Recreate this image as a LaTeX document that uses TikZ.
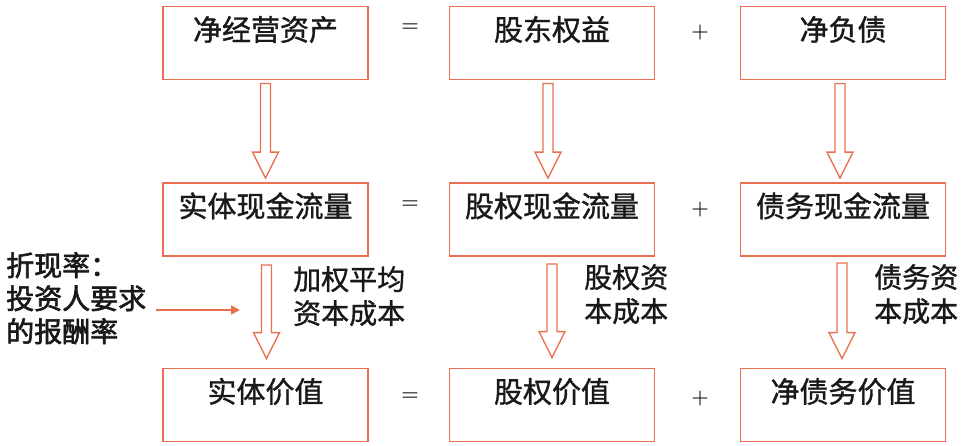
\documentclass[tikz,border=0pt]{standalone}
\usepackage{fontspec}
\newfontfamily\cjk{Noto Sans CJK SC}[FakeBold=1.2,AutoFakeBold=1.2]
\newfontfamily\cjkb{Noto Sans CJK SC}[FakeBold=2.2,AutoFakeBold=2.2]
\usetikzlibrary{calc,arrows.meta}
\definecolor{edge}{RGB}{232,112,80}
\definecolor{ink}{RGB}{25,25,25}
\tikzset{
  box/.style={draw=edge, line width=1.8pt, minimum width=205pt, inner xsep=0pt, inner ysep=0pt,
    text height=34pt, text depth=39pt, font=\cjk\fontsize{29}{32}\selectfont, text=ink},
  op/.style={font=\bfseries\fontsize{20}{22}\selectfont, text=ink, inner sep=0pt},
  lbl/.style={font=\cjk\fontsize{28}{34}\selectfont, text=ink, align=left, inner sep=0pt},
  hollow/.style={draw=edge, line width=1.3pt, fill=white, line join=miter},
  thin/.style={draw=edge, line width=1.6pt, -{Triangle[length=9pt,width=9pt]}}
}
\newcommand\blockarrow[2]{%
  \draw[hollow] let \p1=(#1), \p2=(#2) in
    (\x1-5pt,\y1) -- (\x1+5pt,\y1) -- (\x1+5pt,\y2+26pt) -- (\x1+13pt,\y2+26pt)
    -- (\x1,\y2) -- (\x1-13pt,\y2+26pt) -- (\x1-5pt,\y2+26pt) -- cycle;}
\begin{document}
\begin{tikzpicture}[x=1pt,y=-1pt]
\useasboundingbox (0,0) rectangle (968,445);
% row 1
\node[box] (a1) at (265.5,43) {净经营资产};
\node[box] (b1) at (552,43) {股东权益};
\node[box] (c1) at (843,43) {净负债};
% row 2
\node[box] (a2) at (265.5,219.5) {实体现金流量};
\node[box] (b2) at (552,219.5) {股权现金流量};
\node[box] (c2) at (843,219.5) {债务现金流量};
% row 3
\node[box] (a3) at (265.5,405) {实体价值};
\node[box] (b3) at (552,405) {股权价值};
\node[box] (c3) at (843,405) {净债务价值};
% operators
\node[op] (e1) at (410,28) {=};
\node[op] (p1) at (700,33) {+};
\node[op] (e2) at (410,205) {=};
\node[op] (p2) at (700,210) {+};
\node[op] (e3) at (410,397) {=};
\node[op] (p3) at (700,398) {+};
% block arrows
\blockarrow{$(a1.south)+(0,3)$}{$(a2.north)+(0,-4)$}
\blockarrow{$(b1.south)+(-4,3)$}{$(b2.north)+(-4,-4)$}
\blockarrow{$(c1.south)+(-3,3)$}{$(c2.north)+(-3,-4)$}
\blockarrow{$(a2.south)+(1,8)$}{$(a3.north)+(1,-9)$}
\blockarrow{$(b2.south)+(0,7)$}{$(b3.north)+(0,-10)$}
\blockarrow{$(c2.south)+(-1,6)$}{$(c3.north)+(-1,-9)$}
% labels
\node[lbl, anchor=north west] (w) at (293,266) {加权平均\\资本成本};
\node[lbl, anchor=north west] (k) at (584,264) {股权资\\本成本};
\node[lbl, anchor=north west] (d) at (874,264) {债务资\\本成本};
\node[lbl, anchor=north west, font=\cjkb\fontsize{28}{33}\selectfont] (r) at (6,252) {折现率：\\投资人要求\\的报酬率};
\coordinate (rt) at (240,310);
\draw[thin] (156,310) -- (rt);
\end{tikzpicture}
\end{document}
